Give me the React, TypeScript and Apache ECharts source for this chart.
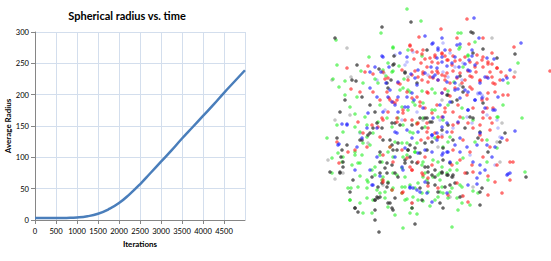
import React, { useEffect, useRef } from "react";
import * as echarts from "echarts";

const titleText = "Spherical radius vs. time";
const xName = "Iterations";
const yName = "Average Radius";

const iterations = [0, 250, 500, 750, 1000, 1250, 1500, 1750, 2000, 2250, 2500, 2750, 3000, 3250, 3500, 3750, 4000, 4250, 4500, 4750, 4999];
const avgRadius = [3, 3, 3, 3.3, 4, 6, 10, 17, 27, 41, 57, 75, 93, 111, 130, 148, 166, 184, 203, 221, 239];

// projected particle positions (screen-projection units)
const redPts = [
  [419,37],[410,45],[412,50],[417,52],[422,54],[414,59],[421,63],[425,59],[430,58],[435,57],[432,62],[438,63],[427,67],[423,72],[432,72],[438,73],[433,78],[428,82],[418,77],[412,75],[402,70],[347,68],[368,66],[373,74],[365,72],[385,79],[398,83],[422,80],[438,80],
  [467,19],[441,29],[457,38],[483,38],[469,44],[514,47],[492,53],[450,50],[442,53],[445,56],[453,56],[448,60],[460,60],[488,62],[477,63],[483,57],[492,64],[497,68],[475,67],[483,67],[501,72],[490,72],[476,72],[468,71],[460,73],[453,71],[447,73],[442,75],[472,77],[465,80],[480,80],[487,77],[500,80],[506,76],[514,77],[550,71],[445,80],[450,83],[493,83],
  [351,89],[360,92],[373,92],[380,100],[389,98],[393,102],[397,100],[412,98],[420,102],[428,93],[425,108],[437,105],[397,118],[382,118],[388,112],[403,113],[405,120],[417,124],[428,128],[435,133],[438,137],[428,138],[421,140],[380,137],[367,147],[390,147],[402,150],[383,155],[393,162],[407,158],[418,162],[425,157],[432,165],[410,167],[348,152],[339,163],[372,125],[358,122],
  [445,89],[455,88],[472,89],[488,93],[503,95],[508,95],[482,100],[487,108],[493,108],[483,118],[458,105],[445,108],[453,112],[442,117],[458,123],[452,132],[473,128],[490,130],[480,135],[442,137],[463,140],[482,140],[507,140],[490,147],[453,150],[470,152],[483,157],[510,162],[513,162],[460,160],[472,165],[452,165],[497,165],
  [412,170],[422,173],[392,190],[403,192],[412,203],[383,180],[428,186],[438,188],[428,178],
  [488,176],[465,173],[495,182],[510,180],[502,193],[488,195],[468,202],[457,183],[448,195],[463,196],[473,172],
  [410,46],[423,50],[435,55],[442,54],[447,60],[452,65],[455,61],[465,57],[470,62],[477,55],[482,60],[488,64],[497,68],[383,72],[388,78],[400,84],[408,80],[415,71],[423,74],[430,77],[437,71],[445,76],[457,78],[470,76],[480,81],[492,77],[495,84],[387,92],[390,100],[395,103],[407,92],[417,97],[427,92],[442,93],[450,96],[467,95],[487,99],[495,92],[403,110],[420,106],[432,113],[445,112],[460,117],[473,108],[483,112],[490,118],[383,120],[397,122],[412,120],[427,123],[453,125],[468,123],[480,125],[492,123],[462,83],[470,87],
  [337,142],[355,150],[363,133],[378,127],[418,123],[427,132],[412,170],[423,175],[402,193],[383,182],[438,137]
];
const bluePts = [
  [425,36],[432,44],[400,53],[438,50],[382,56],[407,57],[375,67],[389,67],[370,72],[381,72],[418,70],[425,73],[431,67],[437,68],[415,78],[435,75],[386,83],[411,74],
  [474,18],[479,38],[460,44],[521,43],[487,58],[494,59],[469,60],[472,56],[455,57],[442,38],[465,64],[459,67],[470,71],[452,63],[447,66],[442,62],[507,78],[503,80],[488,78],[510,70],[457,77],[480,83],
  [370,88],[377,97],[388,97],[392,102],[395,105],[405,107],[407,97],[414,100],[383,112],[398,112],[342,124],[347,124],[367,128],[377,128],[339,144],[357,147],[397,133],[405,148],[412,138],[418,132],[432,135],[437,140],[425,150],[377,157],[395,157],[402,167],[418,153],[432,152],[362,138],[368,113],
  [442,93],[450,102],[458,89],[468,92],[475,100],[482,98],[498,97],[495,110],[468,110],[443,117],[442,127],[447,132],[460,138],[480,133],[515,131],[502,138],[487,145],[467,147],[477,145],[495,147],[455,145],[447,152],[442,155],[460,152],[473,162],[492,157],[480,165],[450,162],
  [380,176],[373,185],[410,187],[413,188],[417,190],[425,182],[427,193],[432,202],[403,170],[370,170],
  [485,170],[480,173],[507,175],[508,174],[510,173],[477,178],[477,184],[447,193],[468,185],
  [433,43],[438,48],[442,57],[437,58],[445,50],[457,45],[472,50],[468,70],[475,65],[485,77],[433,77],[438,80],[383,57],[398,82],[417,85],[447,82],[455,83],[465,90],[475,100],[390,90],[398,97],[412,93],[455,90],[460,98],[480,93],[408,107],[440,105],[468,110],[433,118],[447,123],[485,108],[493,110],[458,122],[423,108],
  [347,125],[338,145],[355,170],[372,185],[410,188],[420,192],[443,153],[448,152],[432,135],[437,133],[407,130],[395,132]
];
const lightBluePts = [
  [413,52],[407,62],[428,75],[377,80],[443,43],[450,53],[463,63],[455,67],[443,72],[462,80],[448,77],[478,93],[482,95],[497,120],[483,112],[467,117],[472,123],[453,128],[498,128],[500,137],[470,155],[495,165],
  [395,55],[405,65],[478,94],[483,97],[440,120],[487,115],[417,112],[385,110],[432,137],[442,135],[360,133],[402,120]
];
const greenPts = [
  [407,9],[421,21],[381,33],[336,40],[393,48],[369,57],[388,63],[337,65],[399,66],[361,71],[333,79],[345,81],[363,83],[375,79],[386,76],[393,71],[404,79],[378,83],[408,50],[422,56],
  [458,33],[461,33],[475,42],[459,49],[518,63],[468,56],[463,67],[454,82],[508,83],
  [339,87],[345,95],[357,97],[350,107],[355,114],[365,117],[380,105],[400,90],[402,107],[410,92],[422,91],[432,89],[435,93],[408,110],[415,105],[432,110],[360,132],[367,137],[373,133],[378,122],[392,127],[403,125],[410,132],[423,118],[438,117],[355,152],[362,155],[332,158],[343,157],[352,165],[358,163],[375,167],[382,162],[388,152],[403,157],[415,152],[423,162],[438,162],[395,142],[407,143],[417,143],[327,138],
  [503,105],[522,118],[498,117],[448,91],[463,118],[450,137],[475,142],[487,140],[497,148],[443,147],[457,163],[463,158],[487,162],
  [332,173],[360,176],[367,180],[375,175],[383,177],[388,182],[397,175],[405,177],[423,177],[425,173],[433,177],[438,175],[402,187],[393,188],[385,192],[380,193],[367,188],[351,188],[350,200],[360,203],[373,200],[388,207],[402,193],[413,197],[422,193],[407,199],[423,201],[430,206],[438,197],[363,213],[372,213],[395,215],[410,213],[417,214],[403,228],[418,183],[410,185],
  [440,173],[447,173],[457,170],[452,188],[460,185],[462,187],[440,192],[443,193],[448,198],[457,198],[478,193],[473,191],[462,203],[470,205],[458,210],[452,227],[525,172],[488,180],
  [393,47],[460,47],[468,55],[383,70],[392,72],[403,88],[413,102],[408,90],[423,103],[435,110],[448,105],[462,108],[387,118],[398,118],[417,123],[443,120],[497,117],[473,120],
  [337,125],[343,132],[355,127],[367,125],[363,143],[370,145],[355,155],[342,162],[338,153],[360,163],[372,170],[390,147],[402,143],[407,155],[415,152],[422,165],[433,160],[442,167],[450,170],[402,168],[393,173],[382,180],[368,182],[358,187],[348,188],[377,190],[392,190],[405,187],[415,188],[428,192],[442,187],[450,192],[435,200],[418,200],[405,200],[385,198],[367,198],[350,200],[412,208],[427,180],[440,180],[413,133],[425,127],[435,138],[448,142],[393,157],[380,155]
];
const darkPts = [
  [382,27],[411,22],[335,38],[394,64],[357,65],[352,80],[356,81],[405,73],[417,83],[427,50],[394,56],[379,69],[391,80],
  [471,32],[473,33],[483,49],[515,54],[460,76],
  [362,97],[370,105],[375,112],[388,88],[345,100],[340,112],[425,118],[432,122],[422,128],[412,125],[373,128],[368,135],[360,140],[337,138],[347,145],[390,140],[398,143],[393,150],[408,150],[415,148],[425,143],[432,142],[387,163],[392,165],[405,163],[410,157],[425,167],[343,162],[341,157],[380,152],
  [447,95],[457,100],[463,92],[470,117],[473,118],[483,103],[448,125],[442,130],[453,140],[480,132],[505,133],[500,142],[443,148],[443,160],[478,138],[488,152],
  [330,172],[340,172],[353,180],[372,177],[380,173],[387,173],[395,173],[382,183],[387,187],[378,187],[350,192],[377,197],[380,197],[375,200],[395,198],[390,203],[392,208],[393,210],[412,208],[355,208],[358,212],[375,210],[375,220],[415,224],[379,232],[428,172],[432,175],[435,185],[438,192],[420,188],[428,183],
  [442,172],[448,175],[453,175],[452,177],[467,173],[445,187],[450,185],[455,183],[460,197],[482,188],[480,192],[480,205],[443,208],[440,203],[526,177],
  [393,65],[387,83],[405,72],[463,87],[448,95],[452,102],[420,118],[427,118],[430,122],[395,123],[465,128],[473,53],[497,58],
  [377,123],[382,128],[392,123],[400,125],[370,133],[383,140],[392,145],[397,150],[405,160],[412,162],[417,163],[420,153],[427,150],[428,167],[435,170],[442,173],[447,175],[450,163],[410,145],[408,150],[380,162],[385,168],[388,183],[398,177],[375,200],[378,198],[388,203],[355,208],[343,167],[342,150],[362,140],[340,173],[422,200],[435,177]
];
const grayPts = [
  [347,48],[332,80],[351,77],[408,77],[384,73],[492,38],[515,72],[350,115],[335,120],[368,143],[328,160],[438,147],[502,123],[497,142],[500,162],[335,179],[383,185],[412,203],[343,173],[453,177],[473,187],[450,197],[462,196],
  [442,100],[460,85],[423,120]
];

const FONT = "Lato, 'Open Sans', sans-serif";

function scatter(data: number[][], color: string, opacity: number) {
  return {
    type: "scatter",
    xAxisIndex: 1,
    yAxisIndex: 1,
    data,
    symbol: "circle",
    symbolSize: 3.6,
    itemStyle: { color, opacity },
    silent: true,
  };
}

export default function App() {
  const ref = useRef<HTMLDivElement>(null);
  useEffect(() => {
    const chart = echarts.init(ref.current!, null, { renderer: "svg" });
    chart.setOption({
      animation: false,
      backgroundColor: "#ffffff",
      graphic: [
        {
          type: "text",
          x: 127,
          y: 15,
          style: {
            text: titleText,
            font: `bold 11px ${FONT}`,
            fill: "#000000",
            align: "center",
            verticalAlign: "middle",
          },
        },
      ],
      grid: [
        { left: 35, top: 32, width: 210, height: 188 },
        { left: 320, top: 0, right: 0, bottom: 0 },
      ],
      xAxis: [
        {
          type: "value",
          gridIndex: 0,
          min: 0,
          max: 5000,
          interval: 500,
          name: xName,
          nameLocation: "middle",
          nameGap: 20,
          nameTextStyle: { fontFamily: FONT, fontSize: 8, fontWeight: "bold", color: "#000" },
          axisLine: { show: true, lineStyle: { color: "#868686", width: 1 } },
          axisTick: { show: true, length: 4, lineStyle: { color: "#868686" } },
          axisLabel: {
            fontFamily: FONT,
            fontSize: 7.6,
            color: "#000",
            margin: 7,
            showMaxLabel: false,
            formatter: (v: number) => String(v),
          },
          splitLine: { show: true, lineStyle: { color: "#d3deed", width: 1 } },
        },
        { type: "value", gridIndex: 1, min: 320, max: 551, show: false },
      ],
      yAxis: [
        {
          type: "value",
          gridIndex: 0,
          min: 0,
          max: 300,
          interval: 50,
          name: yName,
          nameLocation: "middle",
          nameGap: 23,
          nameRotate: 90,
          nameTextStyle: { fontFamily: FONT, fontSize: 8, fontWeight: "bold", color: "#000" },
          axisLine: { show: true, lineStyle: { color: "#868686", width: 1 } },
          axisTick: { show: true, length: 4, lineStyle: { color: "#868686" } },
          axisLabel: { fontFamily: FONT, fontSize: 7.6, color: "#000", margin: 6 },
          splitLine: { show: true, lineStyle: { color: "#d3deed", width: 1 } },
        },
        { type: "value", gridIndex: 1, min: 0, max: 261, inverse: true, show: false },
      ],
      series: [
        {
          type: "line",
          xAxisIndex: 0,
          yAxisIndex: 0,
          data: iterations.map((x, i) => [x, avgRadius[i]]),
          smooth: true,
          showSymbol: false,
          lineStyle: { color: "#4a7ebb", width: 2.5 },
          itemStyle: { color: "#4a7ebb" },
        },
        scatter(grayPts, "#808080", 0.45),
        scatter(lightBluePts, "#6a6aff", 0.4),
        scatter(greenPts, "#22ee22", 0.6),
        scatter(darkPts, "#333333", 0.75),
        scatter(redPts, "#ff2222", 0.65),
        scatter(bluePts, "#2222ff", 0.65),
      ],
    });
    return () => chart.dispose();
  }, []);
  return (
    <div
      ref={ref}
      style={{ position: "absolute", left: 0, top: 0, width: 551, height: 261 }}
    />
  );
}
